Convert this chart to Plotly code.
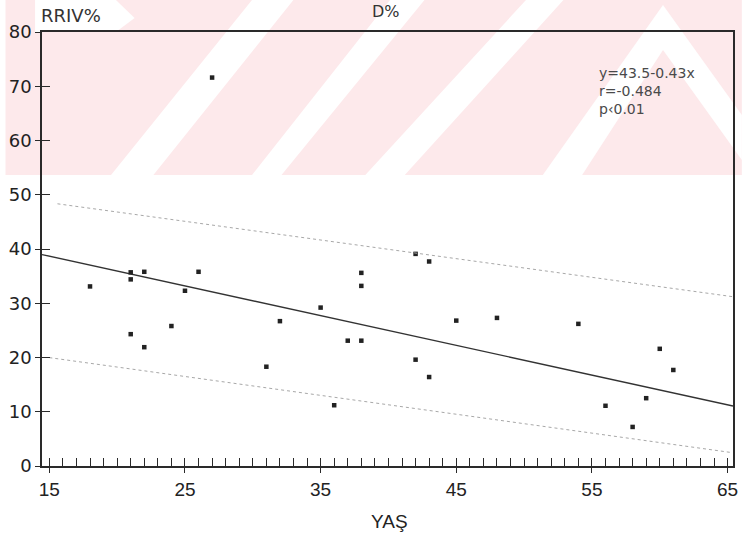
import plotly.graph_objects as go
import numpy as np

# ---- data ----
age = [18, 21, 21, 22, 21, 22, 24, 25, 26, 27, 31, 32, 35, 36, 37, 38, 38, 38,
       42, 43, 42, 43, 45, 48, 54, 56, 58, 59, 60, 61]
rriv = [33.1, 35.7, 34.4, 35.8, 24.3, 21.9, 25.8, 32.3, 35.8, 71.6, 18.3, 26.7,
        29.2, 11.2, 23.1, 35.6, 33.2, 23.1, 39.1, 37.7, 19.6, 16.4, 26.8, 27.3,
        26.2, 11.1, 7.2, 12.5, 21.6, 17.7]

# drawn regression line and dotted band lines (intercept, slope)
fit_line = (46.9, -0.548)
upper_band = (53.7, -0.344)
lower_band = (25.2, -0.348)
fit_span = (14.46, 65.4)
upper_span = (15.6, 65.4)
lower_span = (15.0, 65.3)

x_range = [14.46, 65.4]
y_range = [0, 80]
x_major = [15, 25, 35, 45, 55, 65]
y_major = [0, 10, 20, 30, 40, 50, 60, 70, 80]
stats_lines = ["y=43.5-0.43x", "r=-0.484", "p\u20390.01"]


def line_pts(coef, span):
    xs = np.array(span)
    return xs, coef[0] + coef[1] * xs


fig = go.Figure()

ux, uy = line_pts(upper_band, upper_span)
lx, ly = line_pts(lower_band, lower_span)
fig.add_trace(go.Scatter(x=ux, y=uy, mode="lines", xaxis="x2", yaxis="y2",
                         line=dict(color="#a8a8a8", width=1, dash="dot"),
                         showlegend=False, hoverinfo="skip"))
fig.add_trace(go.Scatter(x=lx, y=ly, mode="lines", xaxis="x2", yaxis="y2",
                         line=dict(color="#a8a8a8", width=1, dash="dot"),
                         showlegend=False, hoverinfo="skip"))

fx, fy = line_pts(fit_line, fit_span)
fig.add_trace(go.Scatter(x=fx, y=fy, mode="lines",
                         line=dict(color="#333333", width=1.4),
                         showlegend=False))
fig.add_trace(go.Scatter(x=age, y=rriv, mode="markers",
                         marker=dict(symbol="square", size=4.5, color="#222222"),
                         showlegend=False))

# ---- watermark (background decoration) in pixel coords -> paper coords ----
L, R, T, B = 37, 9, 32, 68
W, H = 747, 534
pw, ph = W - L - R, H - T - B


def px(xp, yp):
    return (xp - L) / pw, (H - B - yp) / ph


def poly(points):
    pts = [px(a, b) for a, b in points]
    return "M " + " L ".join(f"{a:.4f},{b:.4f}" for a, b in pts) + " Z"


pink = "#fde9eb"
shapes = []
shapes.append(dict(type="path", xref="paper", yref="paper", layer="below",
                   path=poly([(0, 0), (747, 0), (747, 175), (0, 175)]),
                   fillcolor=pink, line=dict(width=0)))
white_polys = [
    [(250, 0), (292, 0), (150, 175), (107, 175)],
    [(390, 0), (425, 0), (280, 175), (250, 175)],
    [(528, 0), (566, 0), (405, 175), (365, 175)],
    [(545, 175), (667, 5), (747, 115), (747, 160), (667, 50), (585, 175)],
    [(30, 0), (112, 0), (131, 18), (112, 32), (30, 32)],
]
for p in white_polys:
    shapes.append(dict(type="path", xref="paper", yref="paper", layer="below",
                       path=poly(p), fillcolor="white", line=dict(width=0)))

annotations = [
    dict(text="RRIV%", xref="paper", yref="paper", x=px(34, 0)[0], y=px(0, 16)[1],
         xanchor="left", yanchor="middle", showarrow=False,
         font=dict(family="DejaVu Sans", size=18, color="#333333")),
    dict(text="D%", xref="paper", yref="paper", x=px(386, 0)[0], y=px(0, 11)[1],
         xanchor="center", yanchor="middle", showarrow=False,
         font=dict(family="DejaVu Sans", size=16, color="#333333")),
    dict(text="YAŞ", xref="paper", yref="paper", x=px(390, 0)[0], y=px(0, 521)[1],
         xanchor="center", yanchor="middle", showarrow=False,
         font=dict(family="Liberation Sans Narrow, Liberation Sans", size=19, color="#222222")),
    dict(text="<br>".join(stats_lines), xref="paper", yref="paper",
         x=px(600, 0)[0], y=px(0, 63)[1], xanchor="left", yanchor="top",
         align="left", showarrow=False,
         font=dict(family="DejaVu Sans", size=14, color="#4a4a4a")),
]

axis_col = "#2a2a2a"
fig.update_layout(
    width=W, height=H,
    margin=dict(l=L, r=R, t=T, b=B),
    paper_bgcolor="white",
    plot_bgcolor="rgba(0,0,0,0)",
    shapes=shapes,
    annotations=annotations,
    xaxis=dict(range=x_range, tickmode="array", tickvals=x_major,
               ticktext=[str(v) for v in x_major],
               ticks="outside", ticklen=5, tickwidth=1.3, tickcolor=axis_col,
               showline=True, linecolor=axis_col, linewidth=1.5, mirror=True,
               showgrid=False, zeroline=False,
               tickfont=dict(family="Liberation Sans Narrow, Liberation Sans", size=19, color="#222222")),
    yaxis=dict(range=y_range, tickmode="array", tickvals=y_major,
               ticks="outside", ticklen=5, tickwidth=1.3, tickcolor=axis_col,
               showline=True, linecolor=axis_col, linewidth=1.5, mirror=True,
               showgrid=False, zeroline=False,
               tickfont=dict(family="DejaVu Sans", size=18, color="#222222")),
    xaxis2=dict(range=x_range, overlaying="x", anchor="y2", side="bottom",
                tickmode="linear", tick0=15, dtick=1,
                ticks="inside", ticklen=8, tickwidth=1.2, tickcolor=axis_col,
                showticklabels=False, showline=False, showgrid=False, zeroline=False),
    yaxis2=dict(range=y_range, overlaying="y", anchor="x2", side="left",
                tickmode="linear", tick0=0, dtick=10,
                ticks="inside", ticklen=8, tickwidth=1.2, tickcolor=axis_col,
                showticklabels=False, showline=False, showgrid=False, zeroline=False),
)

fig.write_html("out.html", config={"displayModeBar": False},
               post_script="document.body.style.margin='0px';")
